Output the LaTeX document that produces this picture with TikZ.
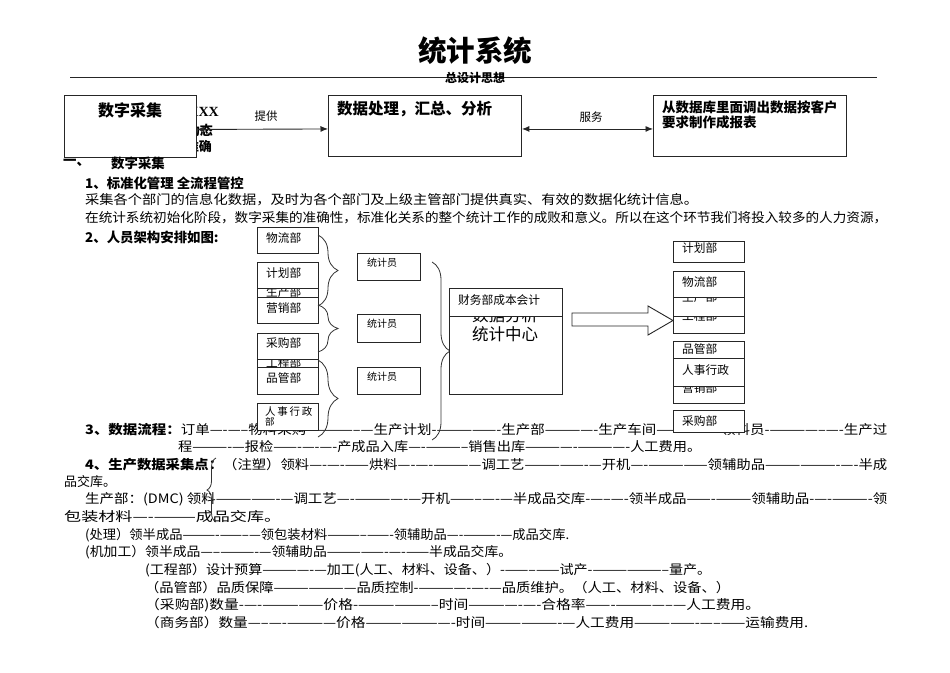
\documentclass[tikz,border=0pt]{standalone}
\usepackage{fontspec}
\usepackage{graphicx}
\setmainfont{Noto Sans CJK SC}
\newfontfamily\lat{Liberation Serif}
\usetikzlibrary{arrows.meta,decorations.pathreplacing}
\newcommand\fitw[2]{\resizebox{#1pt}{\height}{#2}}
\newcommand\pbox[8]{%
  \node[bx, anchor=north west, minimum width=#4pt-#2pt, minimum height=#5pt-#3pt] (#1) at (#2,#3) {};
  \node[lbl, anchor=west] (#1t) at (#6,#7) {#8};}
\tikzset{
  bx/.style={draw=black!85, line width=0.9pt, fill=white, inner sep=0pt},
  lbl/.style={inner sep=0pt, font=\fontsize{11.7}{13}\selectfont},
  tjy/.style={inner sep=0pt, font=\fontsize{10}{11}\selectfont},
  body/.style={inner sep=0pt, anchor=west, font=\fontsize{13}{15}\selectfont},
  head/.style={inner sep=0pt, anchor=west, font=\bfseries\fontsize{13.4}{15}\selectfont},
  brc/.style={draw=black!80, line width=0.8pt, decorate},
  conn/.style={draw=black!85, line width=0.9pt, {Latex[length=7.5pt,width=6pt]}-{Latex[length=7.5pt,width=6pt]}},
}
\begin{document}
\begin{tikzpicture}[x=1pt,y=-1pt]
\useasboundingbox (0,0) rectangle (950,672);
\fill[white] (0,0) rectangle (950,672);

% title
\node[inner sep=0, font=\bfseries\fontsize{28.5}{30}\selectfont] (title) at (475,51) {统计系统};
\draw[black!85, line width=0.9pt] (70,77.5) -- (877,77.5);
\node[inner sep=0, font=\bfseries\fontsize{12}{13}\selectfont] (sub) at (475,78) {总设计思想};

% fragments behind box 1
\node[inner sep=0, anchor=east, font=\lat\bfseries\fontsize{14}{15}\selectfont] (fx) at (219,112) {XXX};
\node[inner sep=0, anchor=east, font=\bfseries\fontsize{13}{14}\selectfont] (fd) at (213,130) {动态};
\node[inner sep=0, anchor=east, font=\bfseries\fontsize{13}{14}\selectfont] (fz) at (212,147) {准确};

% top boxes
\node[bx, anchor=north west, minimum width=132pt, minimum height=62pt] (b1) at (64,95) {};
\node[inner sep=0, font=\bfseries\fontsize{16}{17}\selectfont] (b1t) at (130,110) {数字采集};
\node[bx, anchor=north west, minimum width=193pt, minimum height=61pt] (b2) at (328,95) {};
\node[inner sep=0, anchor=west, font=\bfseries\fontsize{15.5}{17}\selectfont] (b2t) at (337,109) {数据处理，汇总、分析};
\node[bx, anchor=north west, minimum width=193pt, minimum height=61pt] (b3) at (653,95) {};
\node[inner sep=0, anchor=north west, align=left, font=\bfseries\fontsize{13.5}{14.5}\selectfont] (b3t) at (662,101) {从数据库里面调出数据按客户\\要求制作成报表};

\draw[conn] ([yshift=-3pt]b1.east) -- ([yshift=-3pt]b2.west);
\draw[conn] ([yshift=-3pt]b2.east) -- ([yshift=-3pt]b3.west);
\node[inner sep=0, font=\fontsize{11.5}{12}\selectfont] (tg) at (266,116) {提供};
\node[inner sep=0, font=\fontsize{11.5}{12}\selectfont] (fw) at (591,117) {服务};

% section text
\node[head] (s1a) at (63,163) {一、};
\node[head] (s1b) at (111,163) {数字采集};
\node[head] (h1) at (85,183) {1、标准化管理 全流程管控};
\node[body] (p1) at (85,200) {\fitw{613}{采集各个部门的信息化数据，及时为各个部门及上级主管部门提供真实、有效的数据化统计信息。}};
\node[body] (p2) at (85,218) {\fitw{802}{在统计系统初始化阶段，数字采集的准确性，标准化关系的整个统计工作的成败和意义。所以在这个环节我们将投入较多的人力资源，}};
\node[head] (h2) at (85,237) {2、人员架构安排如图:};

\node[body] (l3) at (85,430) {\fitw{802}{{\bfseries 3、数据流程：}订单----—--物料采购 --———--—生产计划-—————-生产部---———-生产车间—————-领料员-————--—-生产过}};
\node[body] (l3b) at (178,447) {\fitw{523}{程---——-—报检——-—-—-产成品入库—-———--销售出库————-————-人工费用。}};
\node[body] (l4) at (85,465) {\fitw{802}{{\bfseries 4、生产数据采集点：}（注塑）领料----—-——烘料—-—-————调工艺—————-—开机—-—————领辅助品——————-—-半成}};
\node[body] (l4b) at (64,482) {品交库。};
\node[body] (l5) at (85,499) {\fitw{802}{生产部：(DMC) 领料—————-—调工艺—-————-—开机——--—-—半成品交库-—--—-领半成品——-———领辅助品-—-———-领}};
\node[body] (l5b) at (64,517) {\fitw{217}{包装材料—-———成品交库。}};
\node[body] (l6) at (85,535) {\fitw{484}{(处理）领半成品———-——--—领包装材料———--——-领辅助品—-—---—-—成品交库.}};
\node[body] (l7) at (85,552) {\fitw{427}{(机加工）领半成品—--———-—领辅助品—————-—-——半成品交库。}};
\node[body] (l8) at (145,570) {\fitw{566}{(工程部）设计预算—---——-—加工(人工、材料、设备、）-——--——试产-——————--量产。}};
\node[body] (l9) at (145,588) {\fitw{585}{（品管部）品质保障——————---品质控制-————-—-—品质维护。（人工、材料、设备、）}};
\node[body] (l10) at (145,605) {\fitw{615}{（采购部)数量-—-—————价格-——————--时间---———-—-合格率——-————--—人工费用。}};
\node[body] (l11) at (145,623) {\fitw{663}{（商务部）数量—--—-————价格—————---—-时间——————-—人工费用—————-—--——运输费用.}};

% left department boxes
\pbox{lwl}{257}{227}{318}{253}{266}{238}{物流部}
\pbox{lsc}{257}{276}{318}{302}{266}{292.5}{生产部}
\pbox{ljh}{257}{262}{318}{288}{266}{273}{计划部}
\pbox{lyx}{257}{297}{318}{323}{266}{308}{营销部}
\pbox{lgc}{257}{350}{318}{376}{266}{363}{工程部}
\pbox{lcg}{257}{333}{318}{359}{266}{343}{采购部}
\pbox{lpg}{257}{367}{318}{394}{266}{378}{品管部}
\node[bx, anchor=north west, minimum width=61pt, minimum height=27pt] (lrs) at (257,403) {};
\node[inner sep=0, anchor=west, font=\fontsize{10.5}{11}\selectfont] (lrst) at (265,412) {人\,事\,行\,政};
\node[inner sep=0, anchor=west, font=\fontsize{9.5}{10}\selectfont] (lrsb) at (265,422) {部};

% statisticians
\node[bx, anchor=north west, minimum width=63pt, minimum height=27pt] (t1) at (357,253) {};
\node[tjy, anchor=west] (t1t) at (367,263) {统计员};
\node[bx, anchor=north west, minimum width=63pt, minimum height=28pt] (t2) at (357,314) {};
\node[tjy, anchor=west] (t2t) at (367,324) {统计员};
\node[bx, anchor=north west, minimum width=63pt, minimum height=27pt] (t3) at (357,367) {};
\node[tjy, anchor=west] (t3t) at (367,377) {统计员};

% braces
\draw[brc, decoration={brace, amplitude=20pt}] (318,235) -- (318,306);
\draw[brc, decoration={brace, amplitude=20pt}] (318,305) -- (318,352);
\draw[brc, decoration={brace, amplitude=20pt}] (318,360) -- (318,437);
\draw[brc, decoration={brace, amplitude=18pt}] (432,262) -- (432,440);
\draw[brc, decoration={brace, amplitude=9pt}] (216,522) -- (216,458);

% central box
\node[bx, anchor=north west, minimum width=113pt, minimum height=106pt] (cb) at (449,288) {};
\node[inner sep=0, font=\fontsize{16.5}{17}\selectfont] (cb1) at (505,315) {数据分析};
\node[inner sep=0, font=\fontsize{16.5}{17}\selectfont] (cb2) at (505,334) {统计中心};
\node[bx, anchor=north west, minimum width=113pt, minimum height=28pt] (cbh) at (449,288) {};
\node[lbl, anchor=west] (cbht) at (458,300) {财务部成本会计};

% block arrow
\draw[draw=black!85, line width=0.9pt, fill=white] (572,313) -- (648,313) -- (648,306) -- (673,320.5) -- (648,335) -- (648,326) -- (572,326) -- cycle;

% right department boxes
\pbox{rjh}{673}{241}{744}{262}{682}{248}{计划部}
\pbox{rgc}{673}{304}{744}{333}{682}{316}{工程部}
\pbox{rsc}{673}{285}{744}{316}{682}{297}{生产部}
\pbox{rwl}{673}{271}{744}{297}{682}{282}{物流部}
\pbox{rpg}{673}{341}{744}{372}{682}{349}{品管部}
\pbox{ryx}{673}{376}{744}{403}{682}{388}{营销部}
\pbox{rrs}{673}{358}{744}{386}{682}{370}{人事行政}
\pbox{rcg}{673}{410}{744}{432}{682}{421}{采购部}
\end{tikzpicture}
\end{document}
